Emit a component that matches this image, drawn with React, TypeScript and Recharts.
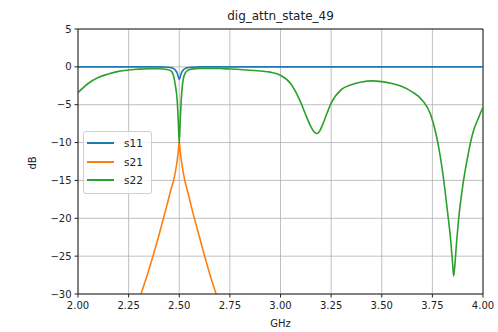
import { LineChart, Line, XAxis, YAxis, CartesianGrid, ReferenceLine } from "recharts";

const freqs = [
  2.0, 2.05, 2.1, 2.15, 2.2, 2.25, 2.3, 2.35, 2.4, 2.44,
  2.46, 2.47, 2.48, 2.49, 2.495, 2.5, 2.505, 2.51, 2.52, 2.53,
  2.54, 2.56, 2.6, 2.65, 2.7, 2.75, 2.8, 2.85, 2.9, 2.95,
  3.0, 3.05, 3.1, 3.13, 3.15, 3.17, 3.18, 3.19, 3.21, 3.23,
  3.25, 3.3, 3.35, 3.4, 3.45, 3.5, 3.55, 3.6, 3.65, 3.7,
  3.74, 3.77, 3.79, 3.81, 3.83, 3.84, 3.85, 3.855, 3.86, 3.87,
  3.88, 3.9, 3.92, 3.95, 3.98, 4.0,
];

const s11 = [
  0, 0, 0, 0, 0, 0, 0, 0, 0, -0.05,
  -0.1, -0.2, -0.4, -0.85, -1.3, -1.65, -1.3, -0.85, -0.4, -0.2,
  -0.12, -0.05, 0, 0, 0, 0, 0, 0, 0, 0,
  0, 0, 0, 0, 0, 0, 0, 0, 0, 0,
  0, 0, 0, 0, 0, 0, 0, 0, 0, 0,
  0, 0, 0, 0, 0, 0, 0, 0, 0, 0,
  0, 0, 0, 0, 0, 0,
];

const s21 = [
  null, null, null, null, null, -36, -31, -26.8, -22.2, -18.2,
  -16.1, -15.2, -14, -12.3, -11.2, -9.8, -11.2, -12.3, -14, -15.3,
  -16.3, -18.5, -22.5, -27.3, -31.5, -36, null, null, null, null,
  null, null, null, null, null, null, null, null, null, null,
  null, null, null, null, null, null, null, null, null, null,
  null, null, null, null, null, null, null, null, null, null,
  null, null, null, null, null, null,
];

const s22 = [
  -3.4, -2.2, -1.4, -0.95, -0.6, -0.42, -0.3, -0.25, -0.25, -0.35,
  -0.55, -1.0, -2.3, -4.5, -7, -10.1, -7, -4.3, -1.6, -0.8,
  -0.5, -0.3, -0.2, -0.2, -0.22, -0.28, -0.35, -0.45, -0.55, -0.7,
  -1.1, -2.2, -4.7, -6.7, -7.9, -8.7, -8.8, -8.6, -7.5, -6.1,
  -4.8, -3.0, -2.35, -2.0, -1.85, -1.95, -2.2, -2.6, -3.3, -4.4,
  -6.2, -9.1, -12, -15.8, -20.3, -22.8, -26, -27.6, -26.5, -23,
  -20, -15.7, -12.5, -8.7, -6.6, -5.3,
];

const series = [
  { key: "s11", color: "#1f77b4" },
  { key: "s21", color: "#ff7f0e" },
  { key: "s22", color: "#2ca02c" },
];

const xTicks = [2.0, 2.25, 2.5, 2.75, 3.0, 3.25, 3.5, 3.75, 4.0];
const yTicks = [-30, -25, -20, -15, -10, -5, 0, 5];

const data = freqs.map((f, i) => ({ f, s11: s11[i], s21: s21[i], s22: s22[i] }));

const font = "DejaVu Sans, sans-serif";
const fmtY = (v: number) => (v < 0 ? "\u2212" + Math.abs(v) : String(v));

export default function App() {
  return (
    <div style={{ position: "absolute", left: 0, top: 0, width: 498, height: 332, background: "#fff" }}>
      <div style={{ position: "absolute", left: 0, width: 561, top: 9, textAlign: "center", fontFamily: font, fontSize: 12, color: "#222" }}>
        dig_attn_state_49
      </div>
      <div style={{ position: "absolute", left: 0, width: 561, top: 318, textAlign: "center", fontFamily: font, fontSize: 10, color: "#222" }}>
        GHz
      </div>
      <div
        style={{
          position: "absolute",
          left: 32,
          top: 163,
          transform: "translate(-50%, -50%) rotate(-90deg)",
          fontFamily: font,
          fontSize: 10,
          color: "#222",
        }}
      >
        dB
      </div>
      <LineChart width={498} height={332} data={data} margin={{ top: 29, right: 15, left: 30, bottom: 0 }}>
        <CartesianGrid stroke="#b0b0b0" strokeWidth={0.8} horizontalValues={yTicks} verticalValues={xTicks} />
        <XAxis
          dataKey="f"
          type="number"
          domain={[2, 4]}
          ticks={xTicks}
          tickFormatter={(v: number) => v.toFixed(2)}
          height={38}
          tickSize={3.5}
          tickMargin={4}
          stroke="#222"
          tick={{ fill: "#222", fontSize: 10, fontFamily: font }}
          allowDataOverflow
        />
        <YAxis
          type="number"
          domain={[-30, 5]}
          ticks={yTicks}
          tickFormatter={fmtY}
          width={48}
          tickSize={3.5}
          tickMargin={3}
          stroke="#222"
          tick={{ fill: "#222", fontSize: 10, fontFamily: font }}
          allowDataOverflow
        />
        <ReferenceLine y={5} stroke="#222" />
        <ReferenceLine x={4} stroke="#222" />
        {series.map((s) => (
          <Line
            key={s.key}
            type="monotone"
            dataKey={s.key}
            name={s.key}
            stroke={s.color}
            strokeWidth={1.6}
            dot={false}
            isAnimationActive={false}
          />
        ))}
      </LineChart>
      <div
        style={{
          position: "absolute",
          left: 83,
          top: 131,
          border: "1px solid #d0d0d0",
          borderRadius: 3,
          background: "rgba(255,255,255,0.8)",
          padding: "2px 8px 3px 3px",
          fontFamily: font,
          fontSize: 10.5,
          color: "#222",
        }}
      >
        {series.map((s) => (
          <div key={s.key} style={{ display: "flex", alignItems: "center", height: 18.5 }}>
            <div style={{ width: 27, height: 2, background: s.color, marginRight: 10 }} />
            <span>{s.key}</span>
          </div>
        ))}
      </div>
    </div>
  );
}
